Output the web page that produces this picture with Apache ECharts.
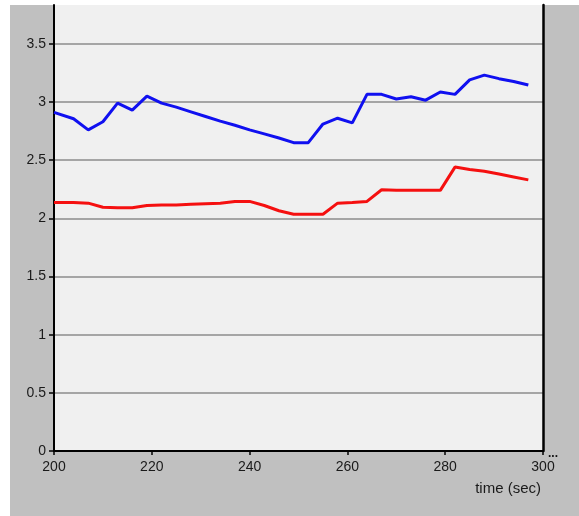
<!DOCTYPE html>
<html>
<head>
<meta charset="utf-8">
<script src="https://cdn.jsdelivr.net/npm/echarts@6/dist/echarts.min.js"></script>
<style>
html,body{margin:0;padding:0;background:#fff;}
#c{width:579px;height:516px;}
</style>
</head>
<body>
<div id="c"></div>
<script>
const times = [200, 204, 207, 210, 213, 216, 219, 222, 225, 228, 231, 234, 237, 240, 243, 246, 249, 252, 255, 258, 261, 264, 267, 270, 273, 276, 279, 282, 285, 288, 291, 294, 297];
const blueValues = [2.91, 2.855, 2.76, 2.83, 2.99, 2.93, 3.05, 2.99, 2.955, 2.915, 2.875, 2.835, 2.80, 2.76, 2.725, 2.69, 2.65, 2.65, 2.81, 2.86, 2.82, 3.065, 3.065, 3.025, 3.045, 3.015, 3.085, 3.065, 3.19, 3.23, 3.20, 3.175, 3.145];
const redValues = [2.135, 2.135, 2.13, 2.095, 2.09, 2.09, 2.11, 2.115, 2.115, 2.12, 2.125, 2.13, 2.145, 2.145, 2.11, 2.065, 2.035, 2.035, 2.035, 2.13, 2.135, 2.145, 2.245, 2.24, 2.24, 2.24, 2.24, 2.44, 2.42, 2.405, 2.38, 2.355, 2.33];
const xLabel = 'time (sec)';

const chart = echarts.init(document.getElementById('c'), null, {renderer: 'canvas'});
const pairs = vals => times.map((t, i) => [t, vals[i]]);
const font = 'Liberation Sans, Arial, sans-serif';

chart.setOption({
  animation: false,
  backgroundColor: '#ffffff',
  graphic: [
    {type: 'rect', z: -10, shape: {x: 10, y: 5, width: 569, height: 511}, style: {fill: '#c0c0c0'}},
    {type: 'text', right: 38, top: 481, style: {text: xLabel, font: '15px ' + font, fill: '#1a1a1a'}},
    {type: 'text', left: 548, top: 448, style: {text: '...', font: 'bold 12px ' + font, fill: '#111'}}
  ],
  grid: {left: 54, top: 5, right: 36, bottom: 65, show: true, backgroundColor: '#f0f0f0', borderWidth: 0},
  xAxis: {
    type: 'value', min: 200, max: 300, interval: 20,
    axisLine: {show: true, onZero: false, lineStyle: {color: '#000', width: 2}},
    axisTick: {show: true, length: 4, lineStyle: {color: '#000', width: 1.5}},
    axisLabel: {margin: 9, color: '#1a1a1a', fontSize: 14, fontFamily: font},
    splitLine: {show: false}
  },
  yAxis: [{
    type: 'value', min: 0, max: 3.833, interval: 0.5,
    axisLine: {show: true, lineStyle: {color: '#000', width: 2}},
    axisTick: {show: true, length: 5, lineStyle: {color: '#000', width: 1.5}},
    axisLabel: {margin: 8, color: '#1a1a1a', fontSize: 14, fontFamily: font, showMaxLabel: false,
      formatter: v => (Math.abs(v * 2 - Math.round(v * 2)) < 1e-6 ? String(v) : '')},
    splitLine: {show: true, lineStyle: {color: ['#8c8c8c','#8c8c8c','#8c8c8c','#8c8c8c','#8c8c8c','#8c8c8c','#8c8c8c','#8c8c8c','rgba(0,0,0,0)'], width: 1.5}}
  }, {
    type: 'value', min: 0, max: 3.833, position: 'right',
    axisLine: {show: true, lineStyle: {color: '#000', width: 2.5}},
    axisTick: {show: false}, axisLabel: {show: false}, splitLine: {show: false}
  }],
  series: [
    {type: 'line', data: pairs(blueValues), showSymbol: false, lineStyle: {color: '#1010f0', width: 3}, z: 3},
    {type: 'line', data: pairs(redValues), showSymbol: false, lineStyle: {color: '#f51010', width: 3}, z: 3}
  ]
});
</script>
</body>
</html>
